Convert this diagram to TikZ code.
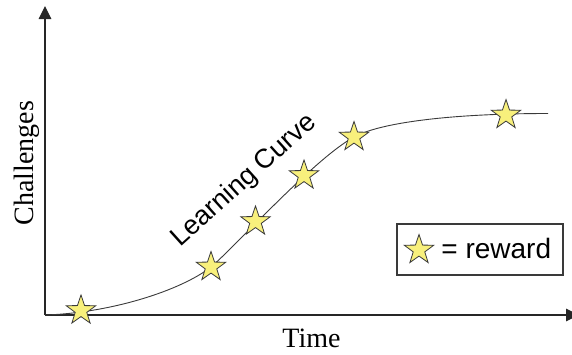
\documentclass[tikz,border=0pt]{standalone}
\usepackage{fontspec}
\setmainfont{Liberation Serif}
\newfontfamily\arialfont{Liberation Sans}
\usepackage{tikz}
\usetikzlibrary{arrows.meta,shapes.geometric}
\definecolor{lcstar}{HTML}{F8F07C}
\definecolor{lcline}{HTML}{3A3A3A}

\begin{document}
\begin{tikzpicture}[
        x=0.5pt, y=-0.5pt,
        axis/.style={draw=black!85, line width=0.6pt,
                     -{Triangle[length=6.5pt, width=6.3pt]}},
        curve/.style={draw=lcline, line width=0.45pt},
        reward/.style={star, star points=5, star point ratio=2.55,
                       minimum size=15.5pt, inner sep=0pt,
                       fill=lcstar, draw=lcline, line width=0.4pt},
        serif/.style={font=\fontsize{14}{16}\selectfont, inner sep=0pt},
        sans/.style={font=\arialfont\fontsize{14}{16}\selectfont, inner sep=0pt}
    ]
        \useasboundingbox (0,0) rectangle (572,354);

        % axes
        \coordinate (origin) at (45,315);
        \coordinate (ytop) at (45,6);
        \coordinate (xend) at (579,315);
        \draw[axis] (origin) -- (ytop);
        \draw[axis] (origin) -- (xend);
        \node[serif, rotate=90, anchor=base] (ylabel) at (33,163) {Challenges};
        \node[serif, anchor=base] (xlabel) at (311.5,347) {Time};

        % points on the curve
        \coordinate (p1) at (81,310.5);
        \coordinate (p2) at (211,267);
        \coordinate (p3) at (255.5,221.5);
        \coordinate (p4) at (304,175.5);
        \coordinate (p5) at (354,137);
        \coordinate (p6) at (506,115);
        \coordinate (cend) at (548,113.5);

        \draw[curve] (origin) .. controls (110,313) and (180,291) .. (p2)
            .. controls (236,245.75) and (314,159) .. (p5)
            .. controls (380,122.7) and (450,113.5) .. (cend);
        \foreach \i in {1,...,6}
            \node[reward] (r\i) at (p\i) {};

        \node[sans, font=\arialfont\fontsize{13.5}{16}\selectfont, rotate=42,
              anchor=base west] (title) at (180,248) {Learning Curve};

        % legend
        \node[draw=lcline, line width=0.6pt, minimum width=83pt,
              minimum height=25.5pt] (legend) at (480,249.5) {};
        \node[reward] (key) at (419,250) {};
        \node[sans, anchor=base west] (keytext) at (441,258) {= reward};
    \end{tikzpicture}
\end{document}
